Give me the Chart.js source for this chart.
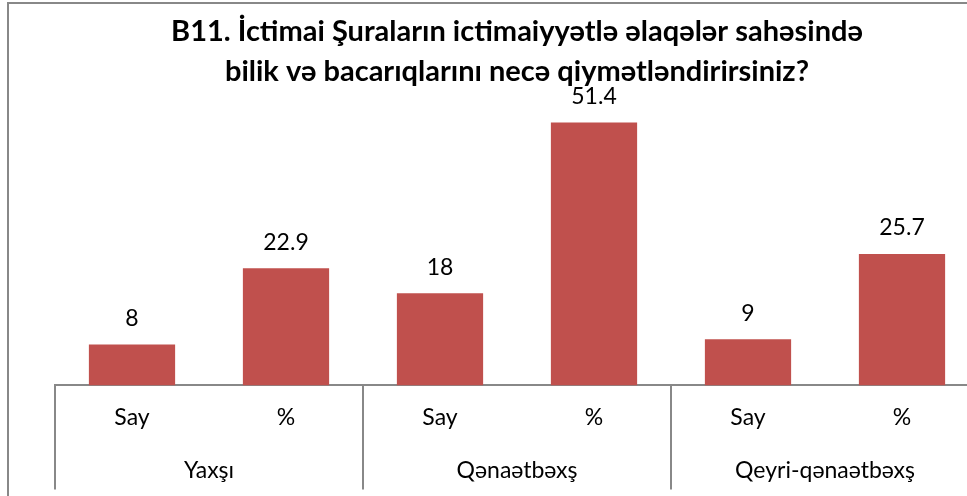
<!DOCTYPE html>
<html>
<head>
<meta charset="utf-8">
<script src="https://cdn.jsdelivr.net/npm/chart.js@4"></script>
<style>
body { margin: 0; overflow: hidden; background: #fff; }
#frame { position: absolute; left: 7px; top: 2px; width: 1000px; height: 600px;
  border-left: 2px solid #888; border-top: 2px solid #888; }
#wrap { position: absolute; left: 0; top: 0; width: 990px; height: 496px; }
</style>
</head>
<body>
<div id="frame"></div>
<div id="wrap"><canvas id="mycanvas"></canvas></div>
<script>
var labels = ['Say', '%', 'Say', '%', 'Say', '%'];
var groups = ['Yaxşı', 'Qənaətbəxş', 'Qeyri-qənaətbəxş'];
var values = [8, 22.9, 18, 51.4, 9, 25.7];
var titleLines = ['B11. İctimai Şuraların ictimaiyyətlə əlaqələr sahəsində',
  'bilik və bacarıqlarını necə qiymətləndirirsiniz?'];

var fontName = 'Lato, "Open Sans", sans-serif';

// data labels above the bars, plus the second row of category labels
var extras = {
  id: 'extras',
  afterDatasetsDraw: function(chart) {
    var ctx = chart.ctx;
    var meta = chart.getDatasetMeta(0);
    ctx.save();
    ctx.fillStyle = '#000';
    ctx.font = '23px ' + fontName;
    ctx.textAlign = 'center';
    ctx.textBaseline = 'middle';
    meta.data.forEach(function(bar, i) {
      ctx.fillText(String(values[i]), bar.x, bar.y - 26);
    });
    ctx.restore();
  },
  afterDraw: function(chart) {
    var ctx = chart.ctx;
    var x = chart.scales.x;
    var bottom = chart.chartArea.bottom;
    var half = (x.getPixelForValue(1) - x.getPixelForValue(0)) / 2;
    ctx.save();
    ctx.strokeStyle = '#888';
    ctx.lineWidth = 2;
    for (var g = 0; g <= groups.length; g++) {
      var px = Math.round(x.getPixelForValue(g * 2) - half);
      ctx.beginPath();
      ctx.moveTo(px, bottom);
      ctx.lineTo(px, bottom + 104);
      ctx.stroke();
    }
    ctx.fillStyle = '#000';
    ctx.font = '23px ' + fontName;
    ctx.textAlign = 'center';
    ctx.textBaseline = 'middle';
    groups.forEach(function(name, g) {
      var cx = (x.getPixelForValue(g * 2) + x.getPixelForValue(g * 2 + 1)) / 2;
      ctx.fillText(name, cx, bottom + 85);
    });
    ctx.restore();
  }
};

var ctx = document.querySelector('#mycanvas');

var barGraph = new Chart(ctx, {
  type: 'bar',
  data: {
    labels: labels,
    datasets: [{
      data: values,
      backgroundColor: '#C0504D',
      borderWidth: 0,
      categoryPercentage: 1,
      barPercentage: 0.56
    }]
  },
  options: {
    responsive: true,
    maintainAspectRatio: false,
    animation: false,
    layout: { padding: { left: 55, right: 11, top: 0, bottom: 47 } },
    plugins: {
      legend: { display: false },
      tooltip: { enabled: false },
      title: {
        display: true,
        text: titleLines,
        color: '#000',
        font: { family: fontName, size: 29, weight: 'bold', lineHeight: 1.38 },
        padding: { top: 12, bottom: 12 }
      }
    },
    scales: {
      y: { display: false, min: 0, max: 55 },
      x: {
        grid: { display: false, drawTicks: false },
        border: { display: true, color: '#888', width: 2 },
        ticks: { color: '#000', font: { family: fontName, size: 23 }, padding: 18, maxRotation: 0 }
      }
    }
  },
  plugins: [extras]
});
</script>
</body>
</html>
